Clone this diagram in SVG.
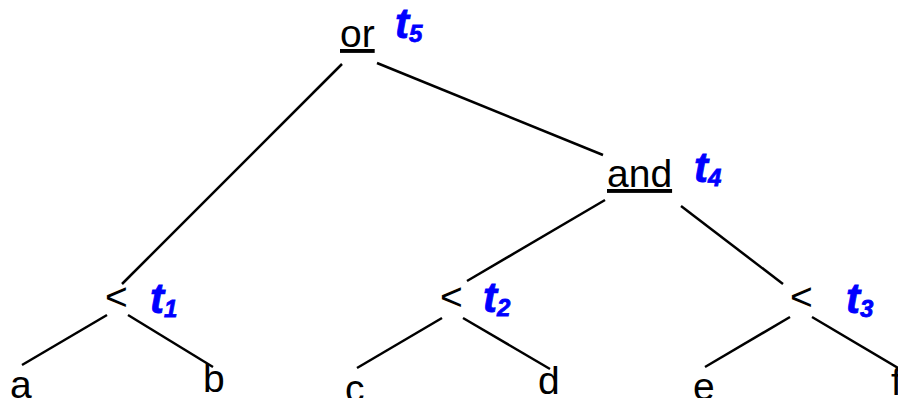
<svg xmlns="http://www.w3.org/2000/svg" width="898" height="398" viewBox="0 0 898 398">
<style>
.n{font-family:"Liberation Sans",Arial,sans-serif;font-size:39px;fill:#000}
.u{text-decoration:underline}
.t{font-family:"Liberation Sans",Arial,sans-serif;font-size:42px;font-weight:bold;font-style:italic;fill:#0000ff;stroke:#0000ff;stroke-width:0.8}
.s{font-size:24px}
#edges line{stroke:#000;stroke-width:2.5;stroke-linecap:butt}
</style>
<rect width="898" height="398" fill="#fff"/>
<g id="edges">
<line x1="342" y1="64" x2="122" y2="284"/>
<line x1="377" y1="63" x2="603" y2="155"/>
<line x1="605" y1="200" x2="467" y2="281"/>
<line x1="681" y1="206" x2="783" y2="284"/>
<line x1="107" y1="315" x2="22" y2="365"/>
<line x1="128" y1="315" x2="213" y2="367"/>
<line x1="442" y1="318" x2="357" y2="368"/>
<line x1="463" y1="318" x2="550" y2="369"/>
<line x1="790" y1="317" x2="705" y2="367"/>
<line x1="812" y1="317" x2="898" y2="368"/>
</g>
<g id="or"><text class="n u" x="340" y="47">or</text><text class="t" x="395" y="38">t<tspan class="s" dy="4">5</tspan></text></g>
<g id="and"><text class="n u" x="607" y="187">and</text><text class="t" x="694" y="182">t<tspan class="s" dy="4">4</tspan></text></g>
<g id="lt1"><text class="n" x="105" y="310">&lt;</text><text class="t" x="150" y="313">t<tspan class="s" dy="4">1</tspan></text></g>
<g id="lt2"><text class="n" x="440" y="310">&lt;</text><text class="t" x="483" y="312">t<tspan class="s" dy="4">2</tspan></text></g>
<g id="lt3"><text class="n" x="790" y="310">&lt;</text><text class="t" x="846" y="313">t<tspan class="s" dy="4">3</tspan></text></g>
<g id="a"><text class="n" x="10" y="398">a</text></g>
<g id="b"><text class="n" x="203" y="392">b</text></g>
<g id="c"><text class="n" x="345" y="402">c</text></g>
<g id="d"><text class="n" x="538" y="394">d</text></g>
<g id="e"><text class="n" x="693" y="400">e</text></g>
<g id="f"><text class="n" x="891" y="395">f</text></g>
</svg>
